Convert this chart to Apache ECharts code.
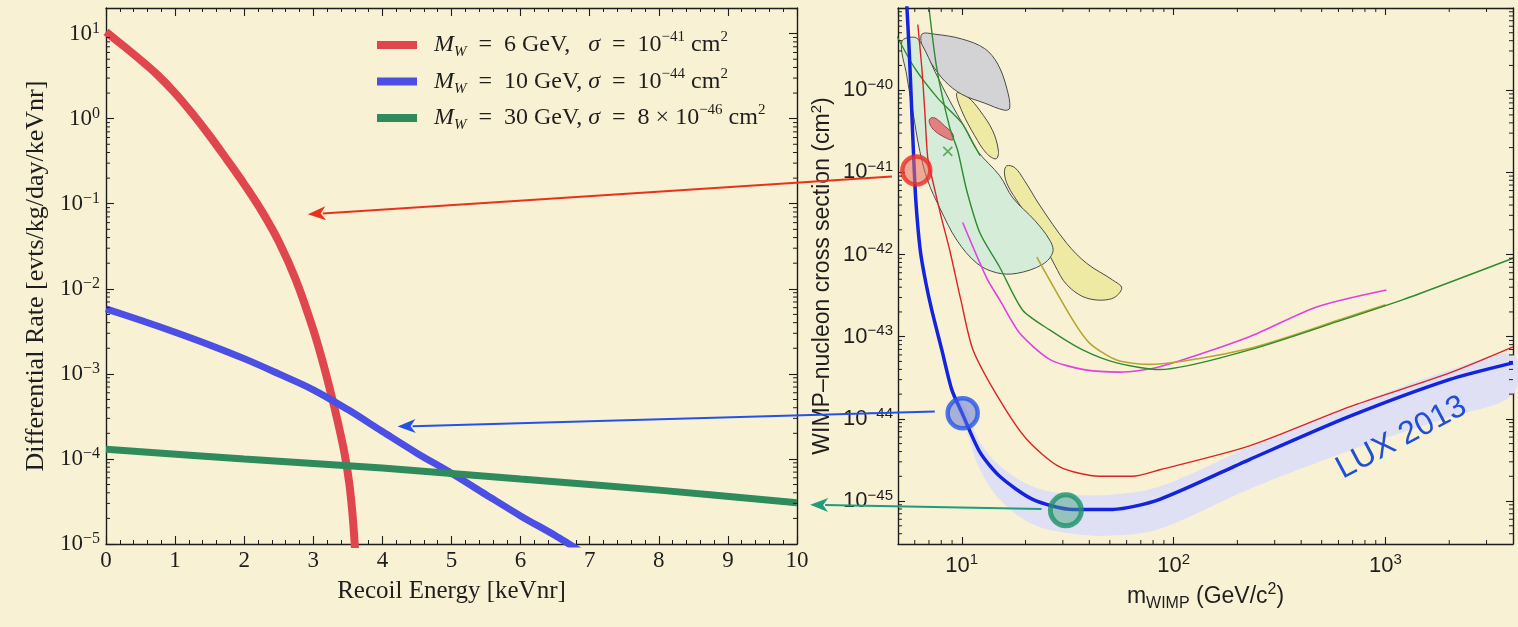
<!DOCTYPE html>
<html>
<head>
<meta charset="utf-8">
<script src="https://cdn.jsdelivr.net/npm/echarts@6.0.0/dist/echarts.min.js"></script>
<style>
html,body{margin:0;padding:0;background:#f9f1d4;overflow:hidden}
#chart{width:1518px;height:627px}
</style>
</head>
<body>
<div id="chart"></div>
<script>
// ===== Tick labels (exponents of 10 shown on the log axes) =====
const rateExponents = [-5, -4, -3, -2, -1, 0, 1];
const massExponents = [1, 2, 3];
const sigmaExponents = [-45, -44, -43, -42, -41, -40];

// ===== Left panel: differential rate vs recoil energy [keVnr] =====
const rateM6 = [[0,10.5],[0.25,7.2],[0.5,4.9],[0.75,3.24],[1.0,2.0],[1.25,1.15],[1.5,0.63],[1.75,0.33],[2.0,0.17],[2.25,0.083],[2.5,0.036],[2.75,0.0126],[3.0,0.0033],[3.15,0.00126],[3.3,4.2e-4],[3.4,1.86e-4],[3.46,1.07e-4],[3.52,5.2e-5],[3.56,2.6e-5],[3.59,1.3e-5],[3.62,5e-6]];
const rateM10 = [[0,5.8e-3],[0.5,4.27e-3],[1,3.09e-3],[1.5,2.19e-3],[2,1.51e-3],[2.5,1.0e-3],[3,6.5e-4],[3.5,3.8e-4],[4,2.1e-4],[4.5,1.17e-4],[5,6.8e-5],[5.5,3.8e-5],[6,2.14e-5],[6.5,1.26e-5],[6.7,1e-5],[6.9,7.9e-6]];
const rateM30 = [[0,1.3e-4],[2,1.0e-4],[4,7.8e-5],[6,5.8e-5],[8,4.3e-5],[10,3.05e-5]];
const seriesNames = ['M_W = 6 GeV, sigma = 1e-41 cm2', 'M_W = 10 GeV, sigma = 1e-44 cm2', 'M_W = 30 GeV, sigma = 8e-46 cm2'];

// ===== Right panel: WIMP-nucleon cross section [cm^2] vs WIMP mass [GeV/c^2] =====
const luxLimit = [[5.5,1.1e-39],[5.65,2.96e-40],[5.78,7.4e-41],[5.91,1.83e-41],[6.07,4.5e-42],[6.37,1.12e-42],[6.77,4.5e-43],[7.22,2.1e-43],[8.05,6.9e-44],[8.97,2.27e-44],[10,1.2e-44],[12.2,3.9e-45],[15.1,2e-45],[21.6,1.05e-45],[33.4,7.9e-46],[51.5,7.9e-46],[86,1.05e-45],[228,3.2e-45],[676,1.07e-44],[2000,3e-44],[4000,4.8e-44]];
const luxBandUpper = [[9.07,2.0e-44],[10.3,1.4e-44],[12.2,5.2e-45],[15.1,2.7e-45],[21.6,1.5e-45],[33.4,1.2e-45],[51.5,1.2e-45],[86,1.5e-45],[228,4.5e-45],[676,1.4e-44],[2000,3.9e-44],[4000,6e-44]];
const luxBandLower = [[9.07,1.7e-44],[10.3,8.5e-45],[12.2,2.4e-45],[15.1,1.05e-45],[21.6,5.2e-46],[33.4,4e-46],[51.5,3.8e-46],[86,4.6e-46],[228,1.4e-45],[676,4.1e-45],[2000,1.05e-44],[4000,2e-44]];
const redLimit = [[6.2,6.3e-40],[6.48,1.85e-40],[6.69,5.6e-41],[6.91,1.5e-41],[7.38,6.9e-42],[7.96,3.0e-42],[8.78,1.12e-42],[9.9,2.8e-43],[11.3,6.9e-44],[15.1,1.7e-44],[20.3,5.6e-45],[29,2.6e-45],[44.7,2e-45],[64,2e-45],[86,2.4e-45],[228,4.7e-45],[676,1.4e-44],[2000,3.6e-44],[4000,7.5e-44]];
const greenLimitA = [[6.95,1.2e-39],[7.62,1.85e-40],[8.78,3.47e-41],[9.57,1.83e-41],[10.56,5.98e-42],[12.2,1.81e-42],[15.1,7.0e-43],[19.4,2.1e-43],[26,1.21e-43],[37.2,6.9e-44],[53.8,4.8e-44],[86,3.98e-44],[228,6.9e-44],[627,1.6e-43],[1203,2.8e-43],[4000,9.0e-43]];
const greenLimitB = [[4.95,4.5e-40],[6.0,1.85e-40],[7.7,8e-41],[10,4e-41],[11.5,2.1e-41],[12.2,1.6e-41]];
const magentaLimit = [[10.1,2.45e-42],[13.1,5.2e-43],[15.1,2.8e-43],[18.8,1.1e-43],[26,5.3e-44],[37.2,4e-44],[55.6,3.7e-44],[86,4.3e-44],[228,1e-43],[473,2.3e-43],[1010,3.7e-43]];
const oliveLimit = [[22.6,9.3e-43],[33.4,1.6e-43],[40.2,8.3e-44],[53.8,5.2e-44],[77,4.6e-44],[228,7.2e-44],[627,1.65e-43],[1000,2.45e-43]];
const mintRegion = [[5.21,3.9e-40],[6.0,4.4e-40],[6.48,3.6e-40],[7.46,1.7e-40],[8.78,7.4e-41],[10.33,3.5e-41],[11.9,1.8e-41],[15.1,9.1e-42],[17.4,4.9e-42],[22.1,2.6e-42],[26.0,1.5e-42],[26.9,1.07e-42],[24.1,7.6e-43],[18.2,5.9e-43],[14.6,6.0e-43],[11.8,7.8e-43],[9.47,1.5e-42],[7.87,3.7e-42],[6.91,7.9e-42],[6.34,1.8e-41],[5.87,5.6e-41],[5.5,1.5e-40]];
const grayRegion = [[6.48,4.8e-40],[7.46,4.8e-40],[10,4.2e-40],[12.84,3.2e-40],[14.8,2.07e-40],[16.3,1.06e-40],[16.85,6.05e-41],[15.9,5.7e-41],[12.84,6.95e-41],[10,8.9e-41],[8.31,1.29e-40],[7.22,2.07e-40],[6.55,3.2e-40]];
const yellowRegionUpper = [[9.47,9.2e-41],[10,5.6e-41],[11.5,2.8e-41],[13.1,1.7e-41],[14.5,1.46e-41],[14.9,1.8e-41],[14.0,3.2e-41],[12.2,5.6e-41],[10.7,8.2e-41]];
const yellowRegionLower = [[16.3,1.2e-41],[17.8,1.14e-41],[19.8,7.9e-42],[23.3,4.0e-42],[31.3,1.37e-42],[38.9,7.8e-43],[51.5,4.9e-43],[56.9,3.9e-43],[51.0,2.9e-43],[38.9,2.95e-43],[31.3,4.3e-43],[27.5,7.4e-43],[23.3,1.7e-42],[18.8,4.0e-42],[16.5,6.9e-42],[15.9,9.9e-42]];
const redRegion = [[7.06,4.46e-41],[7.46,4.6e-41],[8.31,3.66e-41],[9.07,2.93e-41],[9.07,2.48e-41],[8.4,2.63e-41],[7.46,3.19e-41],[7.06,3.9e-41]];
const greenCross = [[8.59,1.8e-41]];
const benchmarkPoints = [[6.1,1.05e-41],[10.1,1.17e-44],[31,7.7e-46]];

// arrows: from a point of the right panel to a point of the left panel
const arrowFrom = [[4.68,8.9e-42],[7.46,1.23e-44],[23.8,8e-46]];
const arrowTo = [[2.92,0.075],[4.22,2.4e-4],[10.19,2.9e-5]];
const arrowColors = ['#e8321e', '#2352e6', '#1f9c7e'];
const luxLabelAt = [1190, 5.9e-45];

const SERIF = '"Liberation Serif","Times New Roman",serif';
const SANS = '"Liberation Sans",Arial,Helvetica,sans-serif';
const INK = '#1e1e1e';

const legendLabels = {};
legendLabels[seriesNames[0]] = '{g| }{i|M}{sub|W}{n|  =  6 GeV,   }{i|σ}{n|  =  10}{sup|−41}{n| cm}{sup|2}';
legendLabels[seriesNames[1]] = '{g| }{i|M}{sub|W}{n|  =  10 GeV, }{i|σ}{n|  =  10}{sup|−44}{n| cm}{sup|2}';
legendLabels[seriesNames[2]] = '{g| }{i|M}{sub|W}{n|  =  30 GeV, }{i|σ}{n|  =  8 × 10}{sup|−46}{n| cm}{sup|2}';

function expLabel(list) {
  return function (v) {
    const l = Math.log10(v), e = Math.round(l);
    if (Math.abs(l - e) > 1e-6 || list.indexOf(e) < 0) return '';
    return '{b|10}{s|' + (e < 0 ? '−' + (-e) : e) + '}';
  };
}
function logMinors(lo, hi) {
  const out = [];
  for (let e = Math.floor(Math.log10(lo)); e <= Math.ceil(Math.log10(hi)); e++)
    for (let k = 2; k <= 9; k++) {
      const v = k * Math.pow(10, e);
      if (v > lo * 1.0001 && v < hi * 0.9999) out.push(v);
    }
  return out;
}

const axLine = {show: true, onZero: false, lineStyle: {color: INK, width: 1.4}};
const tick = (len) => ({show: true, inside: true, length: len, lineStyle: {color: INK, width: 1.1}});

// minor ticks on log axes (drawn through the axes' own scales)
const leftMinor = [];
logMinors(1e-5, 20).forEach(v => { leftMinor.push([0, v, 1, 0, 4]); leftMinor.push([10, v, -1, 0, 4]); });
const rightMinor = [];
logMinors(3e-46, 1e-39).forEach(v => { rightMinor.push([5, v, 1, 0, 4]); rightMinor.push([4000, v, -1, 0, 4]); });
logMinors(5, 4000).forEach(v => { rightMinor.push([v, 3e-46, 0, -1, 4]); rightMinor.push([v, 1e-39, 0, 1, 4]); });

function tickSeries(xi, yi, data) {
  return {type: 'custom', xAxisIndex: xi, yAxisIndex: yi, data: data, silent: true, z: 10,
    renderItem: function (params, api) {
      const p = api.coord([api.value(0), api.value(1)]);
      const len = api.value(4);
      return {type: 'line', shape: {x1: p[0], y1: p[1], x2: p[0] + api.value(2) * len, y2: p[1] + api.value(3) * len},
        style: {stroke: INK, lineWidth: 1}};
    }};
}
function regionSeries(points, fill, stroke, z) {
  return {type: 'custom', xAxisIndex: 2, yAxisIndex: 2, data: points, silent: true, z: z,
    renderItem: function (params, api) {
      if (params.dataIndex !== 0) return null;
      return {type: 'polygon', shape: {points: points.map(p => api.coord(p)), smooth: 0.35},
        style: {fill: fill, stroke: stroke, lineWidth: 1}};
    }};
}
function limitLine(data, color, width, z) {
  return {type: 'line', xAxisIndex: 2, yAxisIndex: 2, data: data, showSymbol: false, smooth: 0.25, z: z,
    silent: true, lineStyle: {color: color, width: width}, itemStyle: {color: color}};
}
function rateLine(name, data, color, width) {
  return {type: 'line', name: name, xAxisIndex: 0, yAxisIndex: 0, data: data, showSymbol: false,
    smooth: 0.35, z: 4, lineStyle: {color: color, width: width}, itemStyle: {color: color}};
}

const bandPoly = luxBandUpper.concat(luxBandLower.slice().reverse());
const supRich = (base, sup, lh) => ({
  b: {fontFamily: base.f, fontSize: base.s, color: INK, lineHeight: lh},
  s: {fontFamily: base.f, fontSize: sup, color: INK, verticalAlign: 'top', lineHeight: sup + 1}
});

const option = {
  backgroundColor: '#f9f1d4',
  animation: false,
  legend: {
    data: seriesNames, orient: 'vertical', left: 372, top: 25, icon: 'rect',
    itemWidth: 40, itemHeight: 8, itemGap: 6.5, selectedMode: false,
    formatter: name => legendLabels[name],
    textStyle: {fontFamily: SERIF, fontSize: 24, color: INK, rich: {
      g: {width: 12},
      i: {fontFamily: SERIF, fontStyle: 'italic', fontSize: 24, color: INK, lineHeight: 30},
      n: {fontFamily: SERIF, fontSize: 24, color: INK, lineHeight: 30},
      sub: {fontFamily: SERIF, fontStyle: 'italic', fontSize: 15, color: INK, verticalAlign: 'bottom', lineHeight: 17},
      sup: {fontFamily: SERIF, fontSize: 15, color: INK, verticalAlign: 'top', lineHeight: 17}
    }}
  },
  grid: [
    {left: 106, top: 8, width: 691, height: 536},
    {left: 898, top: 8, width: 615, height: 536}
  ],
  xAxis: [
    {gridIndex: 0, type: 'value', min: 0, max: 10, interval: 1, position: 'bottom',
      axisLine: axLine, axisTick: tick(8), splitLine: {show: false},
      minorTick: {show: true, splitNumber: 5, length: 4, lineStyle: {color: INK, width: 1}},
      axisLabel: {fontFamily: SERIF, fontSize: 23, color: INK, margin: 5},
      name: 'Recoil Energy [keVnr]', nameLocation: 'middle', nameGap: 35,
      nameTextStyle: {fontFamily: SERIF, fontSize: 25, color: INK}},
    {gridIndex: 0, type: 'value', min: 0, max: 10, interval: 1, position: 'top',
      axisLine: axLine, axisTick: tick(8), splitLine: {show: false},
      minorTick: {show: true, splitNumber: 5, length: 4, lineStyle: {color: INK, width: 1}},
      axisLabel: {show: false}},
    {gridIndex: 1, type: 'log', logBase: 10, min: 5, max: 4000, position: 'bottom',
      axisLine: axLine, axisTick: tick(7), splitLine: {show: false},
      axisLabel: {formatter: expLabel(massExponents), margin: 8, showMinLabel: false, showMaxLabel: false,
        rich: supRich({f: SANS, s: 22}, 15, 28)},
      name: '{n|m}{sub|WIMP}{n| (GeV/c}{sup|2}{n|)}', nameLocation: 'middle', nameGap: 33,
      nameTextStyle: {fontFamily: SANS, fontSize: 23, color: INK, rich: {
        n: {fontFamily: SANS, fontSize: 23, color: INK, lineHeight: 30},
        sub: {fontFamily: SANS, fontSize: 16, color: INK, verticalAlign: 'bottom', lineHeight: 17},
        sup: {fontFamily: SANS, fontSize: 16, color: INK, verticalAlign: 'top', lineHeight: 17}}}},
    {gridIndex: 1, type: 'log', logBase: 10, min: 5, max: 4000, position: 'top',
      axisLine: axLine, axisTick: tick(7), splitLine: {show: false}, axisLabel: {show: false}}
  ],
  yAxis: [
    {gridIndex: 0, type: 'log', logBase: 10, min: 1e-5, max: 20, position: 'left',
      axisLine: axLine, axisTick: tick(8), splitLine: {show: false},
      axisLabel: {formatter: expLabel(rateExponents), margin: 6, showMaxLabel: false,
        rich: supRich({f: SERIF, s: 23}, 16, 26)},
      name: 'Differential Rate [evts/kg/day/keVnr]', nameLocation: 'middle', nameGap: 57,
      nameTextStyle: {fontFamily: SERIF, fontSize: 26, color: INK}},
    {gridIndex: 0, type: 'log', logBase: 10, min: 1e-5, max: 20, position: 'right',
      axisLine: axLine, axisTick: tick(8), splitLine: {show: false}, axisLabel: {show: false}},
    {gridIndex: 1, type: 'log', logBase: 10, min: 3e-46, max: 1e-39, position: 'left',
      axisLine: axLine, axisTick: tick(7), splitLine: {show: false},
      axisLabel: {formatter: expLabel(sigmaExponents), margin: 5, showMaxLabel: false, showMinLabel: false,
        rich: supRich({f: SANS, s: 22}, 15, 26)},
      name: '{n|WIMP–nucleon cross section (cm}{sup|2}{n|)}', nameLocation: 'middle', nameGap: 61,
      nameTextStyle: {fontFamily: SANS, fontSize: 23, color: INK, rich: {
        n: {fontFamily: SANS, fontSize: 23, color: INK, lineHeight: 28},
        sup: {fontFamily: SANS, fontSize: 15, color: INK, verticalAlign: 'top', lineHeight: 16}}}},
    {gridIndex: 1, type: 'log', logBase: 10, min: 3e-46, max: 1e-39, position: 'right',
      axisLine: axLine, axisTick: tick(7), splitLine: {show: false}, axisLabel: {show: false}}
  ],
  series: [
    rateLine(seriesNames[0], rateM6, '#e0464e', 8),
    rateLine(seriesNames[1], rateM10, '#4b4fe4', 7),
    rateLine(seriesNames[2], rateM30, '#2f8b5c', 7),
    tickSeries(0, 0, leftMinor),
    tickSeries(2, 2, rightMinor),
    regionSeries(bandPoly, '#dfe0f4', 'none', 1),
    regionSeries(yellowRegionLower, '#eeeaa4', '#4a4a4a', 2),
    regionSeries(yellowRegionUpper, '#eeeaa4', '#4a4a4a', 2),
    regionSeries(grayRegion, '#d3d3d6', '#4a4a4a', 2),
    regionSeries(mintRegion, '#d5ecd9', '#4a4a4a', 2),
    regionSeries(redRegion, '#e08080', '#a04040', 3),
    limitLine(magentaLimit, '#e040e4', 1.6, 3),
    limitLine(oliveLimit, '#b4a634', 1.6, 3),
    limitLine(greenLimitA, '#2e8b2e', 1.4, 3),
    limitLine(greenLimitB, '#2e8b2e', 1.4, 3),
    limitLine(redLimit, '#d82626', 1.4, 3),
    limitLine(luxLimit, '#1424dc', 3.5, 4),
    {type: 'scatter', xAxisIndex: 2, yAxisIndex: 2, z: 5, silent: true, data: greenCross,
      symbol: 'path://M0,0L10,10M10,0L0,10', symbolSize: 9,
      itemStyle: {color: 'rgba(0,0,0,0)', borderColor: '#3c9a3c', borderWidth: 1.6}},
    {type: 'scatter', xAxisIndex: 2, yAxisIndex: 2, z: 6, silent: true,
      data: [
        {value: benchmarkPoints[0], symbolSize: 28, itemStyle: {color: 'rgba(236,112,96,0.7)', borderColor: '#ec2b26', borderWidth: 4.5}},
        {value: benchmarkPoints[1], symbolSize: 30, itemStyle: {color: 'rgba(96,116,214,0.65)', borderColor: '#2456ea', borderWidth: 4.5}},
        {value: benchmarkPoints[2], symbolSize: 31, itemStyle: {color: 'rgba(72,160,130,0.6)', borderColor: '#1a9266', borderWidth: 5}}
      ]}
  ]
};

const chart = echarts.init(document.getElementById('chart'), null, {renderer: 'canvas'});
chart.setOption(option);

const toL = v => chart.convertToPixel({xAxisIndex: 0, yAxisIndex: 0}, v);
const toR = v => chart.convertToPixel({xAxisIndex: 2, yAxisIndex: 2}, v);
const graphics = [];
arrowFrom.forEach((from, i) => {
  const s = toR(from), t = toL(arrowTo[i]);
  const ang = Math.atan2(t[1] - s[1], t[0] - s[0]);
  const L = 18, W = 7;
  const bx = t[0] - L * Math.cos(ang), by = t[1] - L * Math.sin(ang);
  graphics.push({type: 'line', z: 100, silent: true, shape: {x1: s[0], y1: s[1], x2: bx + 3 * Math.cos(ang), y2: by + 3 * Math.sin(ang)},
    style: {stroke: arrowColors[i], lineWidth: 2}});
  graphics.push({type: 'polygon', z: 100, silent: true, shape: {points: [t,
      [bx - W * Math.sin(ang), by + W * Math.cos(ang)],
      [bx + 5 * Math.cos(ang), by + 5 * Math.sin(ang)],
      [bx + W * Math.sin(ang), by - W * Math.cos(ang)]]},
    style: {fill: arrowColors[i]}});
});
const lp = toR(luxLabelAt);
graphics.push({type: 'text', z: 100, silent: true, x: lp[0], y: lp[1], rotation: 28 * Math.PI / 180,
  style: {text: 'LUX 2013', fill: '#1f4fd6', font: '32px "Liberation Sans", Arial, sans-serif', align: 'center', verticalAlign: 'middle'}});
chart.setOption({graphic: graphics});
</script>
</body>
</html>
